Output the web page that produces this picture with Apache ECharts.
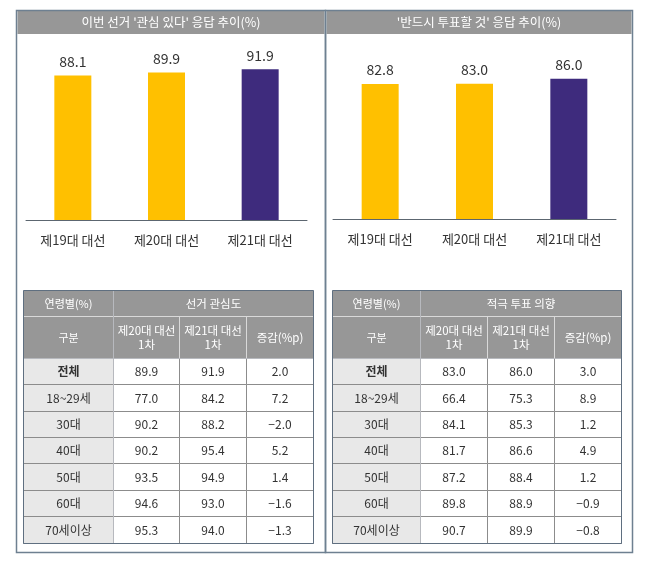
<!DOCTYPE html>
<html>
<head>
<meta charset="utf-8">
<script src="https://cdn.jsdelivr.net/npm/echarts@6.0.0/dist/echarts.min.js"></script>
<style>
html,body{margin:0;padding:0;background:#fff;}
#chart{width:650px;height:586px;}
</style>
</head>
<body>
<div id="chart"></div>
<script>
// ---- data ----
const elections = ['제19대 대선', '제20대 대선', '제21대 대선'];
const interestTrend = [88.1, 89.9, 91.9];
const voteTrend = [82.8, 83.0, 86.0];
const interestTitle = "이번 선거 '관심 있다' 응답 추이(%)";
const voteTitle = "'반드시 투표할 것' 응답 추이(%)";

const ageGroups = ['전체', '18~29세', '30대', '40대', '50대', '60대', '70세이상'];
const tableColumns = ['제20대 대선\n1차', '제21대 대선\n1차', '증감(%p)'];
const cornerTop = '연령별(%)';
const cornerBottom = '구분';
const interestGroup = '선거 관심도';
const voteGroup = '적극 투표 의향';
const interest20 = [89.9, 77.0, 90.2, 90.2, 93.5, 94.6, 95.3];
const interest21 = [91.9, 84.2, 88.2, 95.4, 94.9, 93.0, 94.0];
const interestDiff = [2.0, 7.2, -2.0, 5.2, 1.4, -1.6, -1.3];
const vote20 = [83.0, 66.4, 84.1, 81.7, 87.2, 89.8, 90.7];
const vote21 = [86.0, 75.3, 85.3, 86.6, 88.4, 88.9, 89.9];
const voteDiff = [3.0, 8.9, 1.2, 4.9, 1.2, -0.9, -0.8];

// ---- styles ----
const FONT = '"Noto Sans CJK KR", "Noto Sans", sans-serif';
const YELLOW = '#FFC000';
const PURPLE = '#3E2B7D';
const HEAD_GRAY = '#979797';
const PANEL_LINE = '#6E8091';

function fmt(v) {
  return v.toFixed(1).replace('-', '−');
}

function bodyCells(cols) {
  const out = [];
  cols.forEach((arr, c) => {
    arr.forEach((v, r) => {
      out.push({ coord: [c, r], value: fmt(v) });
    });
  });
  return out;
}

function makeMatrix(left, width, firstCol, group, cols) {
  return {
    left: left, top: 290, width: width, height: 253,
    x: {
      data: [{ value: group, children: tableColumns.slice() }],
      levels: [{ levelSize: 26 }, { levelSize: 42 }],
      itemStyle: { color: HEAD_GRAY, borderColor: '#d9d9d9', borderWidth: 1 },
      label: { color: '#fff', fontSize: 11.5, fontFamily: FONT, lineHeight: 14, overflow: 'none' }
    },
    y: {
      data: ageGroups.map((g, i) => i === 0 ? { value: g, label: { fontWeight: 'bold' } } : g),
      levelSize: firstCol,
      itemStyle: { color: '#e8e8e8', borderColor: '#8c8c8c', borderWidth: 1 },
      label: { color: '#333', fontSize: 12, fontFamily: FONT, overflow: 'none' }
    },
    corner: {
      data: [
        { coord: [-1, -2], value: cornerTop },
        { coord: [-1, -1], value: cornerBottom }
      ],
      itemStyle: { color: HEAD_GRAY, borderColor: '#d9d9d9', borderWidth: 1 },
      label: { color: '#fff', fontSize: 11, fontFamily: FONT, overflow: 'none' }
    },
    body: {
      data: bodyCells(cols),
      itemStyle: { color: '#fff', borderColor: '#8c8c8c', borderWidth: 1 },
      label: { color: '#333', fontSize: 12, fontFamily: FONT }
    },
    backgroundStyle: { borderColor: '#5f6f80', borderWidth: 1 }
  };
}

function barSeries(values, idx) {
  return {
    type: 'bar',
    xAxisIndex: idx, yAxisIndex: idx,
    barWidth: 37,
    data: values,
    itemStyle: {
      color: (p) => p.dataIndex === values.length - 1 ? PURPLE : YELLOW
    },
    label: {
      show: true, position: 'top', distance: 7,
      color: '#333', fontSize: 14, fontFamily: FONT,
      formatter: (p) => p.value.toFixed(1)
    }
  };
}

function panel(x, w, title) {
  return [
    { type: 'rect', shape: { x: x, y: 10.5, width: w, height: 542 },
      style: { fill: 'none', stroke: PANEL_LINE, lineWidth: 1.5 }, z: 10 },
    { type: 'rect', shape: { x: x + 1, y: 11, width: w - 2, height: 23 },
      style: { fill: HEAD_GRAY }, z: 5 },
    { type: 'text', x: x + w / 2, y: 22.5,
      style: { text: title, fill: '#fff', font: '12.5px ' + FONT, align: 'center', verticalAlign: 'middle' }, z: 6 }
  ];
}

const chart = echarts.init(document.getElementById('chart'), null, { renderer: 'canvas' });
chart.setOption({
  backgroundColor: '#fff',
  animation: false,
  textStyle: { fontFamily: FONT },
  grid: [
    { left: 26, width: 281, top: 56, height: 164 },
    { left: 333, width: 283, top: 56, height: 163 }
  ],
  xAxis: [0, 1].map(i => ({
    type: 'category', gridIndex: i, data: elections,
    axisLine: { lineStyle: { color: '#5c6670', width: 1 } },
    axisTick: { show: false },
    axisLabel: { color: '#333', fontSize: 13, margin: 14, fontFamily: FONT }
  })),
  yAxis: [0, 1].map(i => ({
    type: 'value', gridIndex: i, min: 0, max: 100, show: false
  })),
  matrix: [
    makeMatrix(23, 290, 90, interestGroup, [interest20, interest21, interestDiff]),
    makeMatrix(332, 289, 88, voteGroup, [vote20, vote21, voteDiff])
  ],
  series: [barSeries(interestTrend, 0), barSeries(voteTrend, 1)],
  graphic: [].concat(panel(16.5, 309, interestTitle), panel(325.5, 307, voteTitle))
});
</script>
</body>
</html>
